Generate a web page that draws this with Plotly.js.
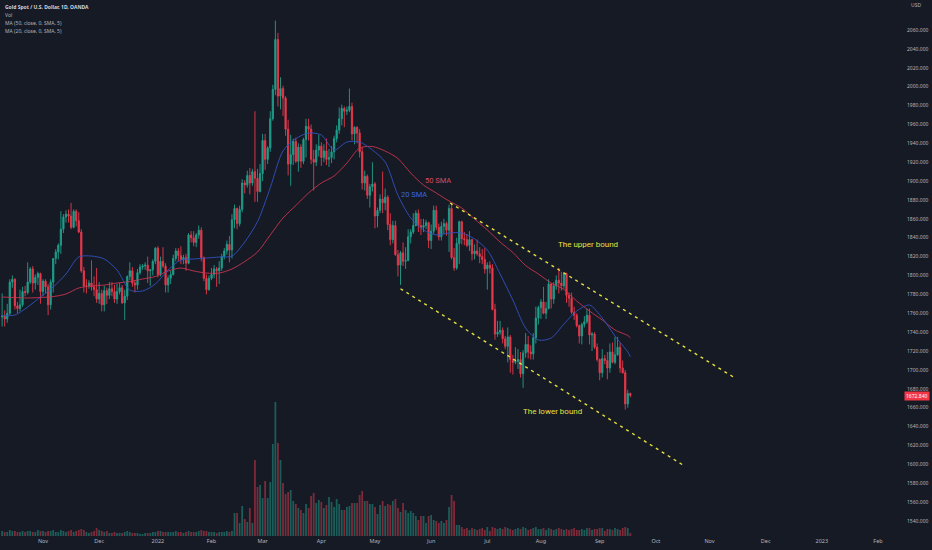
<!DOCTYPE html>
<html><head><meta charset="utf-8">
<script src="https://cdn.plot.ly/plotly-3.0.1.min.js"></script>
<style>html,body{margin:0;padding:0;background:#161a25;}#chart{width:932px;height:550px;}</style>
</head><body><div id="chart"></div>
<script>
// ---- data ----
const firstDay = '2021-10-08';   // first trading day shown; one bar per weekday
const open = [
1756,
1757,1754,1760,1793,1796, 1768,1765,1769,1783,1782, 1793,1807,1792,1798,1802,
1783,1794,1788,1769,1793, 1818,1825,1832,1849,1862, 1865,1863,1851,1868,1858,
1846,1805,1789,1789,1792, 1788,1785,1775,1781,1769, 1784,1779,1786,1783,1775,
1783,1787,1771,1778,1799, 1805,1792,1790,1803,1809, 1810,1811,1805,1806,1815,
1829,1801,1815,1810,1790, 1797,1801,1818,1826,1821, 1817,1819,1813,1843,1840,
1835,1843,1848,1819,1797, 1785,1797,1801,1807,1805, 1808,1820,1826,1833,1827,
1859,1871,1855,1870,1898, 1896,1906,1898,1910,1903, 1889,1908,1943,1923,1935,
1966,1997,2050,1990,1998, 1988,1955,1918,1928,1942, 1921,1936,1921,1944,1958,
1955,1923,1920,1933,1937, 1925,1932,1923,1925,1931, 1945,1954,1966,1977,1974,
1975,1979,1950,1957,1951, 1931,1898,1905,1885,1894, 1897,1863,1869,1881,1877,
1883,1854,1838,1853,1822, 1811,1824,1815,1816,1841, 1846,1853,1866,1853,1851,
1853,1856,1837,1847,1869, 1851,1841,1852,1855,1848, 1871,1819,1808,1834,1857,
1839,1838,1832,1838,1823, 1826,1823,1820,1817,1807, 1811,1808,1764,1738,1740,
1742,1733,1725,1735,1711, 1708,1709,1711,1696,1718, 1727,1719,1717,1734,1755,
1766,1772,1760,1765,1791, 1775,1789,1795,1792,1789, 1802,1779,1776,1761,1758,
1747,1736,1748,1751,1758, 1737,1738,1724,1711,1697, 1712,1710,1702,1719,1708,
1716,1724,1702,1697,1664,
1675];
const high = [
1781,
1763,1770,1796,1800,1797, 1772,1785,1788,1789,1814, 1809,1810,1801,1804,1803,
1796,1796,1791,1796,1818, 1828,1834,1868,1865,1869, 1870,1877,1870,1870,1867,
1849,1809,1796,1795,1816, 1799,1808,1793,1785,1789, 1787,1793,1793,1790,1791,
1792,1790,1785,1800,1814, 1809,1795,1807,1812,1812, 1814,1820,1807,1817,1830,
1831,1820,1830,1813,1800, 1805,1822,1829,1829,1831, 1822,1823,1845,1847,1847,
1845,1853,1851,1820,1801, 1800,1808,1811,1809,1815, 1823,1829,1837,1842,1865,
1875,1872,1874,1902,1901, 1911,1914,1913,1974,1913, 1918,1950,1950,1937,1974,
2002,2070,2057,2010,2001, 1990,1965,1949,1945,1946, 1940,1939,1946,1966,1966,
1960,1933,1939,1949,1941, 1939,1945,1934,1937,1948, 1959,1978,1981,1979,1979,
1998,1983,1958,1958,1955, 1936,1911,1907,1897,1920, 1899,1872,1886,1910,1892,
1885,1866,1858,1858,1827, 1826,1835,1830,1849,1849, 1866,1869,1870,1860,1860,
1859,1857,1854,1874,1874, 1855,1857,1860,1857,1875, 1877,1829,1840,1858,1858,
1846,1844,1847,1839,1833, 1838,1830,1828,1829,1814, 1815,1812,1770,1752,1752,
1745,1736,1745,1737,1716, 1724,1722,1719,1721,1739, 1736,1726,1739,1767,1768,
1775,1788,1772,1796,1792, 1793,1800,1808,1804,1802, 1803,1782,1782,1767,1760,
1748,1750,1757,1765,1765, 1740,1740,1728,1712,1722, 1716,1719,1728,1729,1735,
1735,1729,1710,1700,1679,
1676];
const low = [
1746,
1746,1750,1758,1787,1764, 1760,1762,1767,1778,1780, 1791,1782,1785,1790,1770,
1778,1781,1758,1764,1782, 1812,1817,1823,1845,1856, 1856,1849,1850,1852,1845,
1803,1782,1781,1786,1784, 1778,1771,1770,1762,1762, 1770,1775,1778,1771,1770,
1780,1770,1753,1774,1795, 1788,1782,1785,1801,1806, 1806,1792,1789,1800,1812,
1798,1799,1808,1782,1782, 1791,1800,1815,1815,1812, 1812,1805,1812,1835,1831,
1830,1839,1815,1794,1780, 1784,1795,1797,1788,1791, 1805,1817,1822,1814,1818,
1850,1849,1852,1867,1887, 1893,1886,1895,1878,1878, 1888,1900,1912,1918,1931,
1964,1991,1979,1976,1969, 1948,1906,1895,1917,1919, 1910,1914,1918,1925,1943,
1918,1890,1916,1926,1916, 1920,1917,1915,1919,1923, 1941,1950,1959,1957,1970,
1973,1943,1939,1940,1925, 1891,1890,1881,1872,1889, 1850,1851,1866,1866,1869,
1848,1832,1834,1821,1799, 1790,1810,1807,1815,1834, 1844,1852,1846,1843,1846,
1849,1829,1828,1844,1848, 1837,1837,1844,1842,1825, 1817,1805,1806,1812,1833,
1832,1830,1826,1816,1817, 1821,1813,1812,1802,1785, 1802,1763,1732,1735,1737,
1728,1722,1708,1697,1695, 1706,1701,1692,1681,1713, 1712,1711,1711,1728,1748,
1754,1759,1754,1764,1765, 1770,1785,1781,1784,1786, 1771,1767,1759,1753,1745,
1728,1727,1745,1749,1727, 1720,1722,1709,1689,1692, 1706,1690,1697,1707,1706,
1715,1697,1696,1658,1660,
1671];
const close = [
1757,
1754,1760,1793,1796,1768, 1765,1769,1783,1782,1793, 1807,1792,1798,1802,1783,
1794,1788,1769,1793,1818, 1825,1832,1849,1862,1865, 1863,1851,1868,1858,1846,
1805,1789,1789,1792,1788, 1785,1775,1781,1769,1784, 1779,1786,1783,1775,1783,
1787,1771,1778,1799,1805, 1792,1790,1803,1809,1810, 1811,1805,1806,1815,1829,
1801,1815,1810,1790,1797, 1801,1818,1826,1821,1817, 1819,1813,1843,1840,1835,
1843,1848,1819,1797,1785, 1797,1801,1807,1805,1808, 1820,1826,1833,1827,1859,
1871,1855,1870,1898,1896, 1906,1898,1910,1903,1889, 1908,1943,1923,1935,1966,
1997,2050,1990,1998,1988, 1955,1918,1928,1942,1921, 1936,1921,1944,1958,1955,
1923,1920,1933,1937,1925, 1932,1923,1925,1931,1945, 1954,1966,1977,1974,1975,
1979,1950,1957,1951,1931, 1898,1905,1885,1894,1897, 1863,1869,1881,1877,1883,
1854,1838,1853,1822,1811, 1824,1815,1816,1841,1846, 1853,1866,1853,1851,1853,
1856,1837,1847,1869,1851, 1841,1852,1855,1848,1871, 1819,1808,1834,1857,1839,
1838,1832,1838,1823,1826, 1823,1820,1817,1807,1811, 1808,1764,1738,1740,1742,
1733,1725,1735,1711,1708, 1709,1711,1696,1718,1727, 1719,1717,1734,1755,1766,
1772,1760,1765,1791,1775, 1789,1795,1792,1789,1802, 1779,1776,1761,1758,1747,
1736,1748,1751,1758,1737, 1738,1724,1711,1697,1712, 1710,1702,1719,1708,1716,
1724,1702,1697,1664,1675,
1672.84];
// volume, relative units (thousands)
const volume = [
5,4,4,6,5,5,4,4,5,4,5,5,4,4,6,5,
5,4,5,5,6,4,4,6,5,4,5,6,4,5,
6,7,6,4,3,4,5,
8,6,5,4,5,
3,3,4,3,3,3,4,5,4,3,3,3,2,2,3,3,3,4,
4,5,5,4,4,4,
4,4,5,4,4,3,4,5,4,4,4,5,
6,5,5,4,
4,4,3,4,4,4,5,4,
5,23,23,13,30,17,14,28,13,76,49,
51,38,55,38,54,92,134,93,76,53,42,44,46,35,32,28,26,23,32,28,40,43,33,36,
34,28,31,39,34,29,37,32,26,26,29,30,33,33,33,41,45,35,35,32,32,29,22,31,35,
30,32,31,35,37,28,24,33,26,23,25,23,20,16,20,20,13,20,21,16,15,13,15,13,16,
29,41,35,11,11,
9,7,8,6,8,7,6,7,8,6,9,
5,9,8,7,8,7,9,8,7,6,
7,8,7,9,8,6,7,8,9,7,
7,8,6,8,7,6,7,8,7,6,
7,6,7,8,6,6,7,6,8,8,
6,7,7,8,8,5,7,7,6,8,
7,6,8,9,8,3];
const maBar = [0,5,10,15,20,25,30,35,40,45,50,55,60,65,70,75,80,85,90,95,100,105,110,115,120,125,130,135,140,145,150,155,160,165,170,175,180,185,190,195,200,205,210,215,220,225,230,235,240,245,246];
const ma20 = [1757.6,1758.2,1766.6,1777.2,1787.8,1801.6,1819.6,1820.6,1817.5,1805.8,
1784.6,1783.6,1791.0,1805.8,1816.4,1817.5,1818.5,1819.6,1820.6,1835.5,
1857,1893,1932,1945,1950.9,1948.8,1932.9,1941.4,1941.4,1932.9,
1920.2,1885,1861,1848.2,1842.9,1845.0,1845.0,1838.7,1827.0,1801.6,
1774.0,1744.4,1731.7,1733.8,1748.6,1762.4,1768.7,1755.0,1735.9,1719.0,1714];
const ma50 = [1777.2,1776.7,1776.2,1776.7,1777.7,1780.4,1786.8,1788.9,1789.9,1792.0,
1793.6,1796.3,1798.9,1804.8,1807.9,1804.8,1802.6,1802.6,1806.9,1814.8,
1824.9,1842.9,1860.9,1874.1,1887.4,1898.0,1905.4,1919.1,1935.0,1936.6,
1931.8,1923.9,1908.5,1895.8,1887.4,1878.9,1871.5,1859.8,1848.2,1835.5,
1824.4,1810.6,1801.6,1792.0,1785.2,1773.0,1762.4,1752.9,1742.3,1736.4,1734];
// drawn trend lines (anchor time, price)
const upperDates = ['2022-06-10 10:00','2022-11-15 00:00'];
const upperPrices = [1876.8,1691.4];
const lowerDates = ['2022-05-16 00:00','2022-10-17 14:00'];
const lowerPrices = [1786,1599.3];
const monthTicks = ['2021-11-01','2021-12-01','2022-01-03','2022-02-01','2022-03-01','2022-04-01','2022-05-02','2022-06-01','2022-07-01','2022-08-01','2022-09-01','2022-10-03','2022-11-01','2022-12-01','2023-01-02','2023-02-01'];
const monthLabels = ['Nov','Dec','2022','Feb','Mar','Apr','May','Jun','Jul','Aug','Sep','Oct','Nov','Dec','2023','Feb'];
const priceTicks = [1540,1560,1580,1600,1620,1640,1660,1680,1700,1720,1740,1760,1780,1800,1820,1840,1860,1880,1900,1920,1940,1960,1980,2000,2020,2040,2060];
const lastPrice = 1672.84;

// ---- build ----
function tradingDays(start, n){
  const out=[]; let d=new Date(start+'T00:00:00Z');
  while(out.length<n){
    const w=d.getUTCDay();
    if(w!==0 && w!==6) out.push(d.toISOString().slice(0,10));
    d=new Date(d.getTime()+86400000);
  }
  return out;
}
const dates = tradingDays(firstDay, close.length);
const UP='#1f9f8b', DN='#e8394b';
const volColors = close.map((c,i)=> c>=open[i] ? 'rgba(31,159,139,0.5)' : 'rgba(232,57,75,0.5)');
const maDates = maBar.map(i=>dates[i]);

const PW=900, PH=536;
const px = v=>v/PW, py = v=>1-v/PH;
const FONT='Noto Sans, DejaVu Sans, sans-serif';

const traces = [
  {type:'bar', x:dates, y:volume, yaxis:'y2', marker:{color:volColors, line:{width:0}}, hoverinfo:'skip', showlegend:false},
  {type:'candlestick', x:dates, open:open, high:high, low:low, close:close,
   increasing:{line:{color:UP,width:0.9}, fillcolor:UP},
   decreasing:{line:{color:DN,width:0.9}, fillcolor:DN},
   whiskerwidth:0, hoverinfo:'skip', showlegend:false},
  {type:'scatter', mode:'lines', x:maDates, y:ma50, line:{color:'#c8354e',width:0.9,shape:'spline',smoothing:0.8}, hoverinfo:'skip', showlegend:false},
  {type:'scatter', mode:'lines', x:maDates, y:ma20, line:{color:'#3052c0',width:0.9,shape:'spline',smoothing:0.8}, hoverinfo:'skip', showlegend:false},
  {type:'scatter', mode:'lines', x:upperDates, y:upperPrices, line:{color:'#e6e03c',width:1.4,dash:'3px,4px'}, hoverinfo:'skip', showlegend:false},
  {type:'scatter', mode:'lines', x:lowerDates, y:lowerPrices, line:{color:'#e6e03c',width:1.4,dash:'3px,4px'}, hoverinfo:'skip', showlegend:false}
];

const legendLines = ['Gold Spot / U.S. Dollar, 1D, OANDA','Vol','MA (50, close, 0, SMA, 5)','MA (20, close, 0, SMA, 5)'];
const legendY = [6.7,14.9,23.1,31.3];
const annotations = legendLines.map((t,i)=>({
  text: i===0 ? '<b>'+t+'</b>' : t, xref:'paper', yref:'paper', x:px(2.5), y:py(legendY[i]),
  xanchor:'left', yanchor:'middle', showarrow:false,
  font:{family:FONT, size:5, color: i===0 ? '#d1d4dc' : '#b2b5be'}
}));
annotations.push(
  {text:'50 SMA', xref:'paper', yref:'paper', x:px(437.5), y:py(173.5), showarrow:false, font:{family:'Roboto', size:7.5, color:'#d94a5e'}},
  {text:'20 SMA', xref:'paper', yref:'paper', x:px(413.5), y:py(194), showarrow:false, font:{family:'Roboto', size:7.5, color:'#3d66d6'}},
  {text:'The upper bound', xref:'paper', yref:'paper', x:px(588), y:py(244.5), showarrow:false, font:{family:'Roboto', size:8, color:'#e6e03c'}},
  {text:'The lower bound', xref:'paper', yref:'paper', x:px(552.5), y:py(418), showarrow:false, font:{family:'Roboto', size:8, color:'#e6e03c'}},
  {text:'USD', xref:'paper', yref:'paper', x:1, xshift:9, y:py(5), xanchor:'left', yanchor:'middle', showarrow:false, font:{family:FONT, size:5, color:'#b2b5be'}},
  {text:lastPrice.toFixed(3), xref:'paper', yref:'y', x:1, xshift:4, y:lastPrice, xanchor:'left', yanchor:'middle', showarrow:false,
   bgcolor:'#f23645', borderpad:1, font:{family:FONT, size:5, color:'#ffffff'}}
);

const layout = {
  width:932, height:550,
  paper_bgcolor:'#161a25', plot_bgcolor:'#161a25',
  margin:{l:0, r:932-PW, t:0, b:550-PH, pad:0},
  showlegend:false, bargap:0.3, dragmode:false,
  xaxis:{type:'date', range:['2021-10-07 04:00','2023-02-13 14:24'],
    rangebreaks:[{bounds:['sat','mon']}], rangeslider:{visible:false},
    tickvals:monthTicks, ticktext:monthLabels, tickfont:{family:FONT, size:5.5, color:'#b2b5be'},
    showgrid:false, zeroline:false, showline:false, ticks:'', fixedrange:true},
  yaxis:{side:'right', range:[1524.1, 2091.8], tickvals:priceTicks, tickformat:'.3f',
    tickfont:{family:FONT, size:5, color:'#b2b5be'}, ticks:'outside', ticklen:5, tickcolor:'rgba(0,0,0,0)',
    showgrid:false, zeroline:false, showline:false, fixedrange:true},
  yaxis2:{overlaying:'y', range:[0, PH], visible:false, fixedrange:true},
  annotations:annotations
};
Plotly.newPlot('chart', traces, layout, {displayModeBar:false, staticPlot:true});
</script>
</body></html>
